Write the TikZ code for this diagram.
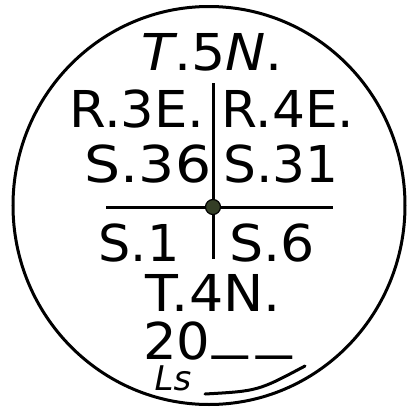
\documentclass[tikz,border=0pt]{standalone}
\usepackage{fontspec}
\setmainfont{DejaVu Sans}
\begin{document}
\begin{tikzpicture}[x=1pt,y=-1pt,
  lbl/.style={anchor=base,inner sep=0pt,text=black,font=\fontsize{50.8}{60}\selectfont,text height=37pt,text depth=0pt},
  ink/.style={line width=3pt,draw=black,line cap=round}]
\useasboundingbox (0,0) rectangle (407,408);
\draw[ink] (209,205.5) ellipse [x radius=196pt, y radius=199pt];
% section lines
\coordinate (vtop) at (213,83);
\coordinate (vbot) at (213,259);
\coordinate (hl) at (106,207);
\coordinate (hr) at (333,207);
\draw[ink,line cap=butt] (vtop) -- (vbot);
\draw[ink,line cap=butt] (hl) -- (hr);
\node[circle,draw=black,line width=1.2pt,fill={rgb,255:red,52;green,62;blue,38},minimum size=15pt,inner sep=0pt] (corner) at (213,207) {};
% labels
\node[lbl] (t5n) at (212,70) {\scalebox{1.06}[1]{\textit{T}.5\textit{N}.}};
\node[lbl] (r3e) at (137,127) {\scalebox{1.04}[1]{R.3E.}};
\node[lbl] (r4e) at (288,127) {\scalebox{1.02}[1]{R.4E.}};
\node[lbl] (s36) at (148,182) {\scalebox{1.12}[1]{S.36}};
\node[lbl] (s31) at (281,182) {\scalebox{1.02}[1]{S.31}};
\node[lbl] (s1) at (139,261) {\scalebox{1.0}[1]{S.1}};
\node[lbl] (s6) at (272,261) {\scalebox{1.06}[1]{S.6}};
\node[lbl] (t4n) at (213,311) {\scalebox{1.06}[1]{T.4N.}};
\node[lbl,anchor=base west] (yr) at (143,359) {\scalebox{1.04}[1]{20}\kern2pt\raisebox{12pt}{\scalebox{1.4}[1]{\_\kern6pt\_}}};
\node[anchor=base,inner sep=0pt,font=\fontsize{34}{36}\selectfont\itshape,text height=24pt,text depth=0pt] (ls) at (173,390) {Ls};
\coordinate (sigA) at (205,394);
\coordinate (sigB) at (305,366);
\draw[ink] (sigA) .. controls (258,391) .. (sigB);
\end{tikzpicture}
\end{document}
